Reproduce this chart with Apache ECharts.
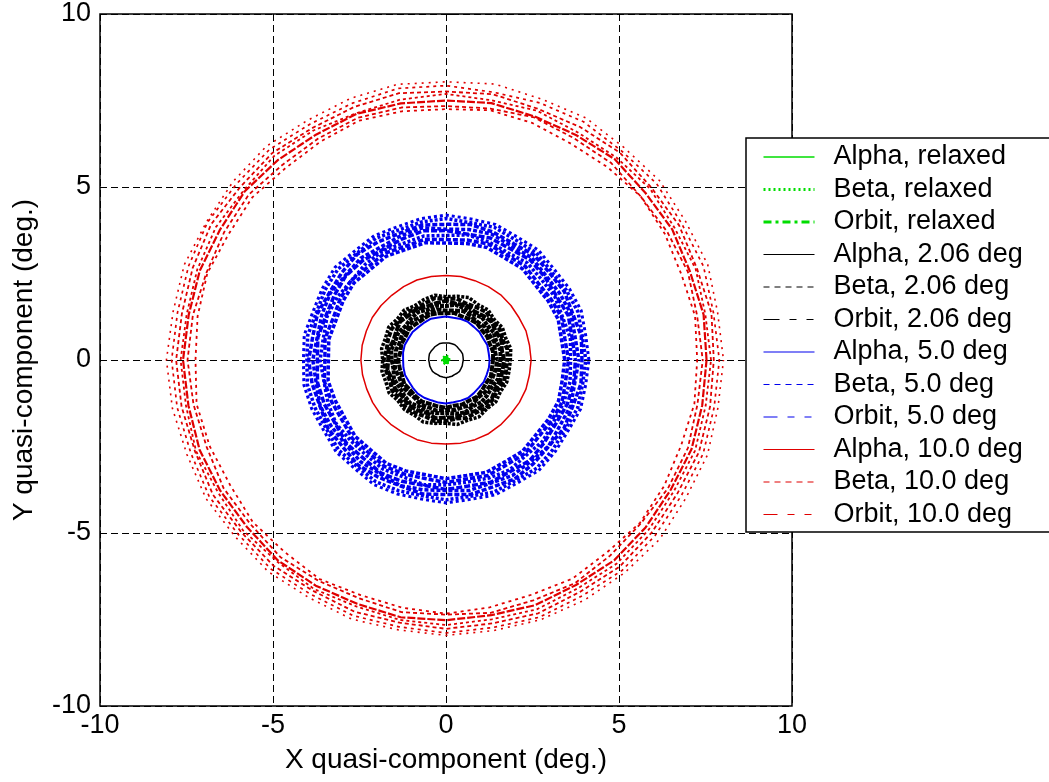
<!DOCTYPE html>
<html>
<head>
<meta charset="utf-8">
<script src="https://cdn.jsdelivr.net/npm/echarts@6/dist/echarts.min.js"></script>
<style>
html,body{margin:0;padding:0;background:#fff;}
#chart{width:1049px;height:782px;}
</style>
</head>
<body>
<div id="chart"></div>
<script>
// ---------- DATA ----------
// polar sampling angles (deg, counter-clockwise from +X)
const ANGLES = [0,10,20,30,40,50,60,70,80,90,100,110,120,130,140,150,160,170,180,190,200,210,220,230,240,250,260,270,280,290,300,310,320,330,340,350];
const X_TICKS = [-10,-5,0,5,10];
const Y_TICKS = [-10,-5,0,5,10];
const LEGEND_NAMES = ['Alpha, relaxed','Beta, relaxed','Orbit, relaxed','Alpha, 2.06 deg','Beta, 2.06 deg','Orbit, 2.06 deg','Alpha, 5.0 deg','Beta, 5.0 deg','Orbit, 5.0 deg','Alpha, 10.0 deg','Beta, 10.0 deg','Orbit, 10.0 deg'];

// relaxed (green, tiny cluster at the origin) - radius per angle
const G_ALPHA = [0.06,0.07,0.06,0.08,0.07,0.06,0.07,0.08,0.06,0.07,0.06,0.07,0.08,0.06,0.07,0.06,0.08,0.07,0.06,0.07,0.08,0.06,0.07,0.06,0.07,0.08,0.06,0.07,0.06,0.07,0.08,0.06,0.07,0.06,0.08,0.07];
const G_BETA  = [0.10,0.12,0.09,0.11,0.12,0.10,0.09,0.11,0.13,0.10,0.09,0.12,0.11,0.10,0.09,0.11,0.12,0.10,0.09,0.11,0.10,0.12,0.11,0.09,0.10,0.12,0.10,0.09,0.11,0.12,0.10,0.09,0.11,0.10,0.12,0.11];
const G_ORBIT = [0.04,0.05,0.04,0.03,0.05,0.04,0.05,0.04,0.03,0.04,0.05,0.04,0.04,0.03,0.05,0.04,0.05,0.04,0.03,0.04,0.05,0.04,0.04,0.03,0.05,0.04,0.05,0.04,0.03,0.04,0.05,0.04,0.04,0.03,0.05,0.04];

// 2.06 deg (black)
const K_ALPHA = [0.50,0.50,0.51,0.50,0.49,0.50,0.51,0.50,0.50,0.49,0.50,0.51,0.50,0.50,0.49,0.50,0.51,0.50,0.50,0.49,0.50,0.50,0.51,0.50,0.49,0.50,0.50,0.51,0.50,0.50,0.49,0.50,0.51,0.50,0.50,0.49];
const K_BETA_1 = [1.36,1.38,1.35,1.37,1.35,1.39,1.36,1.34,1.38,1.35,1.37,1.39,1.35,1.36,1.39,1.35,1.37,1.34,1.38,1.36,1.35,1.39,1.35,1.37,1.39,1.35,1.36,1.38,1.34,1.37,1.35,1.39,1.36,1.34,1.38,1.35];
const K_BETA_2 = [1.47,1.44,1.49,1.45,1.48,1.43,1.46,1.50,1.45,1.43,1.48,1.46,1.44,1.49,1.45,1.47,1.43,1.48,1.46,1.50,1.44,1.47,1.45,1.42,1.48,1.46,1.49,1.44,1.47,1.45,1.50,1.43,1.46,1.48,1.44,1.47];
const K_BETA_3 = [1.57,1.60,1.55,1.59,1.56,1.61,1.54,1.58,1.62,1.56,1.59,1.55,1.60,1.57,1.53,1.59,1.56,1.61,1.57,1.54,1.60,1.56,1.58,1.62,1.55,1.59,1.56,1.53,1.58,1.61,1.55,1.59,1.57,1.54,1.60,1.56];
const K_ORBIT_1 = [1.68,1.64,1.70,1.66,1.72,1.67,1.63,1.69,1.65,1.71,1.67,1.64,1.70,1.68,1.73,1.66,1.62,1.69,1.67,1.72,1.65,1.69,1.64,1.70,1.67,1.63,1.71,1.66,1.69,1.64,1.70,1.68,1.73,1.65,1.68,1.66];
const K_ORBIT_2 = [1.77,1.80,1.74,1.79,1.75,1.81,1.76,1.73,1.80,1.77,1.82,1.75,1.72,1.79,1.76,1.81,1.78,1.74,1.80,1.76,1.73,1.79,1.75,1.81,1.77,1.74,1.80,1.76,1.72,1.78,1.75,1.81,1.77,1.73,1.79,1.76];
const K_ORBIT_3 = [1.86,1.90,1.84,1.88,1.82,1.89,1.85,1.92,1.87,1.83,1.90,1.86,1.81,1.88,1.84,1.91,1.86,1.89,1.83,1.88,1.85,1.90,1.82,1.87,1.84,1.91,1.86,1.83,1.89,1.85,1.90,1.84,1.88,1.82,1.87,1.85];

// 5.0 deg (blue)
const B_ALPHA = [1.26,1.25,1.27,1.24,1.26,1.25,1.27,1.26,1.24,1.26,1.25,1.27,1.25,1.24,1.26,1.25,1.27,1.26,1.24,1.25,1.26,1.24,1.25,1.27,1.26,1.24,1.25,1.26,1.24,1.25,1.27,1.25,1.24,1.26,1.25,1.26];
const B_BETA_1 = [3.43,3.39,3.45,3.41,3.37,3.44,3.40,3.46,3.42,3.38,3.44,3.40,3.46,3.41,3.47,3.43,3.38,3.44,3.40,3.46,3.41,3.37,3.43,3.39,3.45,3.41,3.37,3.43,3.39,3.45,3.40,3.44,3.38,3.42,3.46,3.41];
const B_BETA_2 = [3.54,3.49,3.56,3.51,3.47,3.55,3.50,3.57,3.52,3.48,3.54,3.49,3.56,3.51,3.58,3.53,3.48,3.55,3.50,3.57,3.52,3.47,3.53,3.49,3.55,3.51,3.48,3.54,3.49,3.55,3.50,3.54,3.48,3.52,3.57,3.51];
const B_BETA_3 = [3.60,3.65,3.59,3.64,3.61,3.66,3.58,3.63,3.67,3.60,3.64,3.59,3.65,3.62,3.57,3.63,3.66,3.60,3.64,3.58,3.63,3.67,3.61,3.59,3.64,3.60,3.66,3.61,3.58,3.63,3.67,3.60,3.65,3.59,3.62,3.64];
const B_BETA_4 = [3.74,3.70,3.76,3.69,3.73,3.78,3.71,3.75,3.69,3.74,3.79,3.72,3.68,3.75,3.78,3.73,3.70,3.76,3.72,3.77,3.74,3.69,3.75,3.71,3.77,3.73,3.68,3.74,3.70,3.76,3.72,3.78,3.71,3.67,3.73,3.75];
const B_ORBIT_1 = [3.84,3.79,3.85,3.81,3.78,3.86,3.80,3.87,3.83,3.78,3.88,3.82,3.77,3.84,3.80,3.86,3.82,3.78,3.85,3.81,3.87,3.83,3.79,3.84,3.80,3.86,3.81,3.77,3.83,3.79,3.85,3.82,3.87,3.80,3.84,3.78];
const B_ORBIT_2 = [3.93,3.97,3.90,3.95,3.91,3.96,3.89,3.94,3.98,3.92,3.96,3.90,3.94,3.99,3.93,3.89,3.95,3.91,3.97,3.93,3.88,3.94,3.90,3.96,3.91,3.87,3.93,3.89,3.95,3.91,3.97,3.92,3.88,3.94,3.90,3.96];
const B_ORBIT_3 = [4.04,4.00,4.06,4.02,3.98,4.05,4.01,4.08,4.03,4.09,4.05,4.00,4.06,4.02,4.08,4.04,3.99,4.06,4.02,4.07,4.03,3.99,4.05,4.01,4.06,4.02,3.98,4.04,4.00,4.06,4.02,4.08,4.03,3.99,4.05,4.01];
const B_ORBIT_4 = [4.13,4.10,4.16,4.12,4.08,4.15,4.11,4.17,4.14,4.19,4.15,4.10,4.15,4.11,4.18,4.13,4.09,4.16,4.12,4.17,4.13,4.08,4.14,4.10,4.16,4.12,4.08,4.13,4.09,4.15,4.11,4.17,4.12,4.08,4.14,4.10];

// 10.0 deg (red)
const R_ALPHA = [2.46,2.45,2.46,2.44,2.45,2.46,2.45,2.44,2.45,2.44,2.45,2.46,2.45,2.44,2.45,2.46,2.45,2.46,2.46,2.45,2.44,2.45,2.46,2.45,2.44,2.45,2.44,2.43,2.44,2.45,2.46,2.45,2.44,2.45,2.46,2.45];
const R_BETA_1 = [7.53,7.56,7.50,7.55,7.52,7.58,7.51,7.49,7.54,7.50,7.53,7.57,7.52,7.55,7.59,7.54,7.57,7.55,7.60,7.56,7.58,7.54,7.51,7.56,7.53,7.50,7.55,7.52,7.49,7.54,7.51,7.56,7.53,7.50,7.55,7.52];
const R_BETA_2 = [7.26,7.31,7.24,7.30,7.35,7.27,7.22,7.29,7.33,7.25,7.30,7.36,7.28,7.23,7.31,7.26,7.34,7.29,7.24,7.32,7.27,7.21,7.29,7.25,7.31,7.23,7.27,7.33,7.26,7.22,7.30,7.25,7.32,7.28,7.23,7.29];
const R_BETA_3 = [7.74,7.79,7.72,7.78,7.75,7.82,7.77,7.73,7.80,7.76,7.83,7.78,7.74,7.81,7.77,7.84,7.79,7.75,7.80,7.76,7.72,7.78,7.73,7.76,7.70,7.74,7.71,7.77,7.73,7.79,7.74,7.80,7.76,7.72,7.78,7.75];
const R_BETA_4 = [8.02,7.97,8.05,8.00,8.06,8.01,8.08,8.03,8.10,8.04,8.09,8.05,8.00,8.07,8.03,7.99,8.05,8.01,8.08,8.03,7.97,8.01,7.95,7.99,7.93,7.97,7.92,7.96,7.94,7.99,8.01,8.03,8.06,8.00,8.04,7.98];
const R_ORBIT_1 = [7.42,7.37,7.44,7.39,7.35,7.43,7.40,7.46,7.38,7.34,7.41,7.45,7.39,7.36,7.44,7.40,7.37,7.43,7.47,7.41,7.36,7.42,7.38,7.44,7.37,7.33,7.40,7.36,7.42,7.39,7.45,7.38,7.35,7.41,7.44,7.38];
const R_ORBIT_2 = [7.66,7.61,7.68,7.63,7.70,7.65,7.60,7.67,7.62,7.69,7.64,7.59,7.66,7.71,7.63,7.68,7.65,7.61,7.67,7.63,7.69,7.62,7.66,7.60,7.64,7.58,7.63,7.66,7.61,7.67,7.62,7.68,7.64,7.60,7.66,7.62];
const R_ORBIT_3 = [7.90,7.85,7.92,7.87,7.94,7.89,7.95,7.91,7.86,7.93,7.97,7.90,7.87,7.94,7.91,7.96,7.92,7.88,7.93,7.89,7.85,7.90,7.84,7.88,7.82,7.86,7.83,7.89,7.85,7.91,7.87,7.93,7.89,7.85,7.91,7.87];

// ---------- STYLE / LAYOUT ----------
const FONT = 'Liberation Sans, Arial, Helvetica, sans-serif';
const GREEN = '#00dd00', BLACK = '#000000', BLUE = '#0000ee', RED = '#e00000';
const GRID = {left:100, top:14, width:692, height:692};
const CX = GRID.left + GRID.width/2, CY = GRID.top + GRID.height/2;

function ring(name, radii, color, width, dash, offset) {
  const data = radii.map((r, i) => [r, ANGLES[i]]);
  data.push([radii[0], 360]);
  return {
    name, type:'line', coordinateSystem:'polar', data,
    symbol:'none', showSymbol:false, silent:true, animation:false, clip:false,
    lineStyle:{color, width, type:dash, dashOffset:offset||0, cap:'butt'},
    itemStyle:{color}
  };
}

const series = [
  ring('Alpha, relaxed', G_ALPHA, GREEN, 3, 'solid'),
  ring('Beta, relaxed', G_BETA, GREEN, 2, [2,2]),
  ring('Orbit, relaxed', G_ORBIT, GREEN, 3, 'solid'),

  ring('Alpha, 2.06 deg', K_ALPHA, BLACK, 1.5, 'solid'),
  ring('Beta, 2.06 deg', K_BETA_1, BLACK, 4, [6,1], 0),
  ring('Beta, 2.06 deg', K_BETA_2, BLACK, 4, [5,1.2], 2),
  ring('Beta, 2.06 deg', K_BETA_3, BLACK, 4, [4,1], 1),
  ring('Orbit, 2.06 deg', K_ORBIT_1, BLACK, 4, [7,1.2], 1),
  ring('Orbit, 2.06 deg', K_ORBIT_2, BLACK, 4, [5,1.5], 3),
  ring('Orbit, 2.06 deg', K_ORBIT_3, BLACK, 3.5, [3,1.5], 1),

  ring('Alpha, 5.0 deg', B_ALPHA, BLUE, 2, 'solid'),
  ring('Beta, 5.0 deg', B_BETA_1, BLUE, 3.5, [4,2], 0),
  ring('Beta, 5.0 deg', B_BETA_2, BLUE, 3.5, [5,2], 2),
  ring('Beta, 5.0 deg', B_BETA_3, BLUE, 3.5, [3,2], 1),
  ring('Beta, 5.0 deg', B_BETA_4, BLUE, 3.5, [6,2], 4),
  ring('Orbit, 5.0 deg', B_ORBIT_1, BLUE, 3.5, [4,2], 3),
  ring('Orbit, 5.0 deg', B_ORBIT_2, BLUE, 3.5, [5,2], 1),
  ring('Orbit, 5.0 deg', B_ORBIT_3, BLUE, 3.5, [3,2], 2),
  ring('Orbit, 5.0 deg', B_ORBIT_4, BLUE, 3, [3,3], 0),

  ring('Alpha, 10.0 deg', R_ALPHA, RED, 1.5, 'solid'),
  ring('Beta, 10.0 deg', R_BETA_1, RED, 2.2, [8,2], 0),
  ring('Beta, 10.0 deg', R_BETA_2, RED, 1.8, [3,4], 2),
  ring('Beta, 10.0 deg', R_BETA_3, RED, 1.8, [4,3], 1),
  ring('Beta, 10.0 deg', R_BETA_4, RED, 1.6, [2,5], 3),
  ring('Orbit, 10.0 deg', R_ORBIT_1, RED, 1.8, [4,3], 3),
  ring('Orbit, 10.0 deg', R_ORBIT_2, RED, 1.8, [3,3], 0),
  ring('Orbit, 10.0 deg', R_ORBIT_3, RED, 1.7, [3,4], 2)
];

const LEGEND_LINE = [
  {width:1.5, type:'solid'}, {width:3, type:[2,3]}, {width:3, type:[8,4,3,4]},
  {width:1.2, type:'solid'}, {width:1.2, type:[6,5]}, {width:1.2, type:[17,10,7,10,7,10]},
  {width:1.2, type:'solid'}, {width:1.2, type:[6,5]}, {width:1.2, type:[17,10,7,10,7,10]},
  {width:1.2, type:'solid'}, {width:1.2, type:[6,5]}, {width:1.2, type:[17,10,7,10,7,10]}
];

const axisCommon = {
  type:'value', min:-10, max:10, interval:5,
  axisLine:{show:false},
  axisTick:{show:true, inside:true, length:6, lineStyle:{color:'#000', width:1}},
  splitLine:{show:true, lineStyle:{color:'#000', width:1, type:[7,4]}},
  nameLocation:'middle',
  nameTextStyle:{fontSize:28, color:'#000', fontFamily:FONT}
};

const option = {
  animation:false,
  backgroundColor:'#fff',
  grid:{left:GRID.left, top:GRID.top, width:GRID.width, height:GRID.height, show:true, borderColor:'#000', borderWidth:1.5, backgroundColor:'transparent', z:3},
  xAxis:Object.assign({}, axisCommon, {
    name:'X quasi-component (deg.)', nameGap:40,
    axisLabel:{fontSize:27, color:'#000', fontFamily:FONT, margin:6,
      formatter:v => X_TICKS.includes(v) ? String(v) : ''}
  }),
  yAxis:Object.assign({}, axisCommon, {
    name:'Y quasi-component (deg.)', nameGap:62,
    axisLabel:{fontSize:27, color:'#000', fontFamily:FONT, margin:9,
      formatter:v => Y_TICKS.includes(v) ? String(v) : ''}
  }),
  polar:{center:[CX, CY], radius:GRID.width/2},
  angleAxis:{type:'value', min:0, max:360, startAngle:0, clockwise:false, show:false,
    axisLine:{show:false}, axisTick:{show:false}, axisLabel:{show:false}, splitLine:{show:false}},
  radiusAxis:{type:'value', min:0, max:10, show:false,
    axisLine:{show:false}, axisTick:{show:false}, axisLabel:{show:false}, splitLine:{show:false}},
  graphic:{elements:[{
    type:'rect', z:100, silent:true,
    shape:{x:746, y:138, width:320, height:394},
    style:{fill:'#fff', stroke:'#000', lineWidth:1.5}
  }]},
  legend:{
    z:110, orient:'vertical', left:762, top:142, padding:0,
    itemWidth:51, itemHeight:14, itemGap:2.5,
    selectedMode:false,
    itemStyle:{opacity:0},
    textStyle:{fontSize:27, color:'#000', fontFamily:FONT, lineHeight:30, padding:[0,0,0,14]},
    data:LEGEND_NAMES.map((n, i) => ({name:n, lineStyle:LEGEND_LINE[i]}))
  },
  series
};

const chart = echarts.init(document.getElementById('chart'), null, {renderer:'canvas'});
chart.setOption(option);
</script>
</body>
</html>
